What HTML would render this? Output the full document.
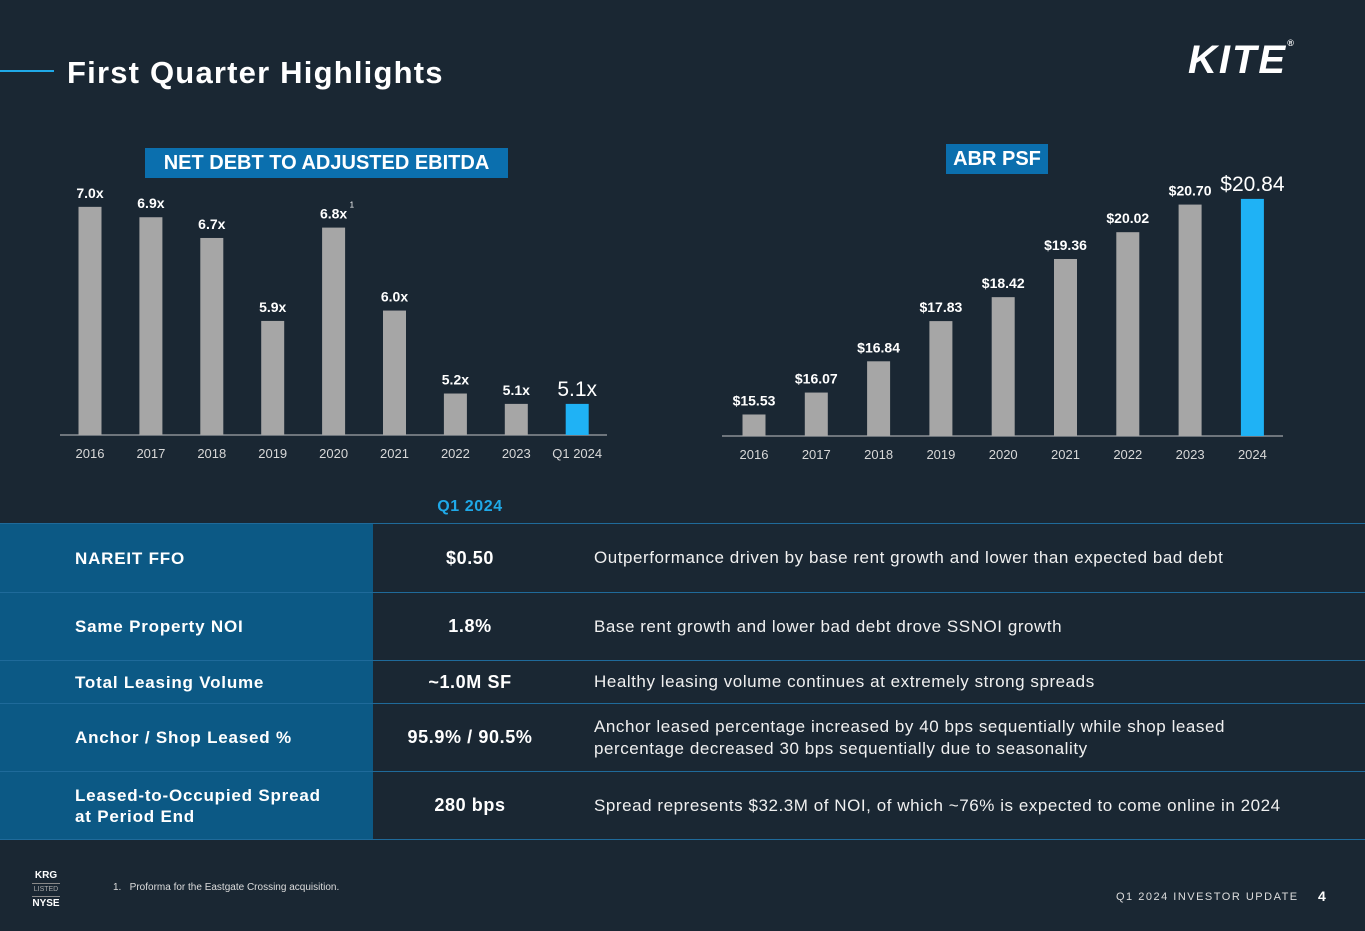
<!DOCTYPE html>
<html><head><meta charset="utf-8"><style>
body{margin:0;width:1365px;height:931px;background:#1a2733;font-family:"Liberation Sans",sans-serif;color:#fff;overflow:hidden;position:relative}
.abs{position:absolute}
.row{position:absolute;left:0;width:1365px;border-bottom:1px solid #1f6a9a}
.lab{position:absolute;left:0;width:373px;height:100%;background:#0c5985;display:flex;align-items:center;padding-left:75px;box-sizing:border-box;font-size:17px;font-weight:bold;line-height:21px;letter-spacing:0.8px}
.val{position:absolute;left:373px;width:194px;height:100%;display:flex;align-items:center;justify-content:center;font-size:18px;font-weight:bold;letter-spacing:0.6px}
.desc{position:absolute;left:594px;width:760px;height:100%;display:flex;align-items:center;font-size:17px;line-height:22px;color:#f0f0f0;letter-spacing:0.55px}
</style></head><body>
<div class="abs" style="left:0;top:70px;width:54px;height:2px;background:#1fa9e8"></div>
<div class="abs" style="left:67px;top:55px;font-size:31px;font-weight:bold;letter-spacing:1.2px">First Quarter Highlights</div>
<div class="abs" style="left:1188px;top:38px;font-size:40px;font-weight:900;font-style:italic;letter-spacing:2px">KITE<span style="font-size:9px;vertical-align:top">®</span></div>

<div class="abs" style="left:145px;top:148px;width:363px;height:30px;background:#0b6fae;font-size:20px;font-weight:bold;text-align:center;line-height:30px">NET DEBT TO ADJUSTED EBITDA</div>
<div class="abs" style="left:946px;top:144px;width:102px;height:30px;background:#0b6fae;font-size:20px;font-weight:bold;text-align:center;line-height:30px">ABR PSF</div>

<svg class="abs" style="left:0;top:0" width="1365" height="480" id="charts"></svg>

<div class="abs" style="left:373px;width:194px;top:498px;text-align:center;color:#1fa9e8;font-size:16px;font-weight:bold;letter-spacing:0.6px">Q1 2024</div>
<div class="abs" style="left:0;top:523px;width:1365px;height:1px;background:#1f6a9a"></div>
<div class="row" style="top:524px;height:68px"><div class="lab">NAREIT FFO</div><div class="val">$0.50</div><div class="desc">Outperformance driven by base rent growth and lower than expected bad debt</div></div>
<div class="row" style="top:593px;height:67px"><div class="lab">Same Property NOI</div><div class="val">1.8%</div><div class="desc">Base rent growth and lower bad debt drove SSNOI growth</div></div>
<div class="row" style="top:661px;height:42px"><div class="lab">Total Leasing Volume</div><div class="val">~1.0M SF</div><div class="desc">Healthy leasing volume continues at extremely strong spreads</div></div>
<div class="row" style="top:704px;height:67px"><div class="lab">Anchor / Shop Leased %</div><div class="val">95.9% / 90.5%</div><div class="desc">Anchor leased percentage increased by 40 bps sequentially while shop leased<br>percentage decreased 30 bps sequentially due to seasonality</div></div>
<div class="row" style="top:772px;height:67px"><div class="lab">Leased-to-Occupied Spread<br>at Period End</div><div class="val">280 bps</div><div class="desc">Spread represents $32.3M of NOI, of which ~76% is expected to come online in 2024</div></div>

<div class="abs" style="left:32px;top:870px;width:28px;text-align:center;font-size:10px;font-weight:bold;line-height:12px">KRG<div style="border-top:1px solid #888;border-bottom:1px solid #888;font-size:7px;font-weight:normal;color:#aaa;margin:1px 0">LISTED</div>NYSE</div>
<div class="abs" style="left:113px;top:882px;font-size:10px;color:#ddd">1.&nbsp;&nbsp;&nbsp;Proforma for the Eastgate Crossing acquisition.</div>
<div class="abs" style="left:1116px;top:891px;font-size:11px;letter-spacing:1.5px;color:#ddd">Q1 2024 INVESTOR UPDATE</div>
<div class="abs" style="left:1318px;top:888px;font-size:14px;font-weight:bold">4</div>

<script>
const debtCats=["2016","2017","2018","2019","2020","2021","2022","2023","Q1 2024"];
const debtVals=[7.0,6.9,6.7,5.9,6.8,6.0,5.2,5.1,5.1];
const debtLabels=["7.0x","6.9x","6.7x","5.9x","6.8x","6.0x","5.2x","5.1x","5.1x"];
const abrCats=["2016","2017","2018","2019","2020","2021","2022","2023","2024"];
const abrVals=[15.53,16.07,16.84,17.83,18.42,19.36,20.02,20.70,20.84];
const abrLabels=["$15.53","$16.07","$16.84","$17.83","$18.42","$19.36","$20.02","$20.70","$20.84"];
const svg=document.getElementById('charts');
const NS="http://www.w3.org/2000/svg";
function mk(t,a){const e=document.createElementNS(NS,t);for(const k in a)e.setAttribute(k,a[k]);svg.appendChild(e);return e;}
function draw(cats,vals,labels,x0,step,base,min,scale,ax0,ax1,name,sup){
  const ax=mk('line',{x1:ax0,x2:ax1,y1:base,y2:base,stroke:'#8a8f94','stroke-width':1.5});
  
  
  cats.forEach((c,i)=>{
    const cx=x0+i*step, last=i===cats.length-1;
    const top=base-(vals[i]-min)*scale;
    const r=mk('rect',{x:cx-11.5,y:top,width:23,height:base-top,fill:last?'#1fb2f5':'#a6a6a6'});
    
    
    const t=mk('text',{x:cx,y:top-(last?8:9),'text-anchor':'middle',fill:'#fff','font-size':last?21:14,'font-family':'Liberation Sans Narrow, Liberation Sans, sans-serif','font-weight':last?'normal':'bold'});
    t.textContent=labels[i];
    
    
    if(sup===i){const s=mk('text',{x:cx+16,y:top-20,fill:'#fff','font-size':8});s.textContent='1';
      
      }
    const l=mk('text',{x:cx,y:base+23,'text-anchor':'middle',fill:'#d8d8d8','font-size':13});
    l.textContent=c;
    
    
  });
}
draw(debtCats,debtVals,debtLabels,90,60.9,435,4.8,103.7,60,607,'net-debt',4);
draw(abrCats,abrVals,abrLabels,754,62.3,436,15.0,40.6,722,1283,'abr',-1);
</script>
</body></html>
